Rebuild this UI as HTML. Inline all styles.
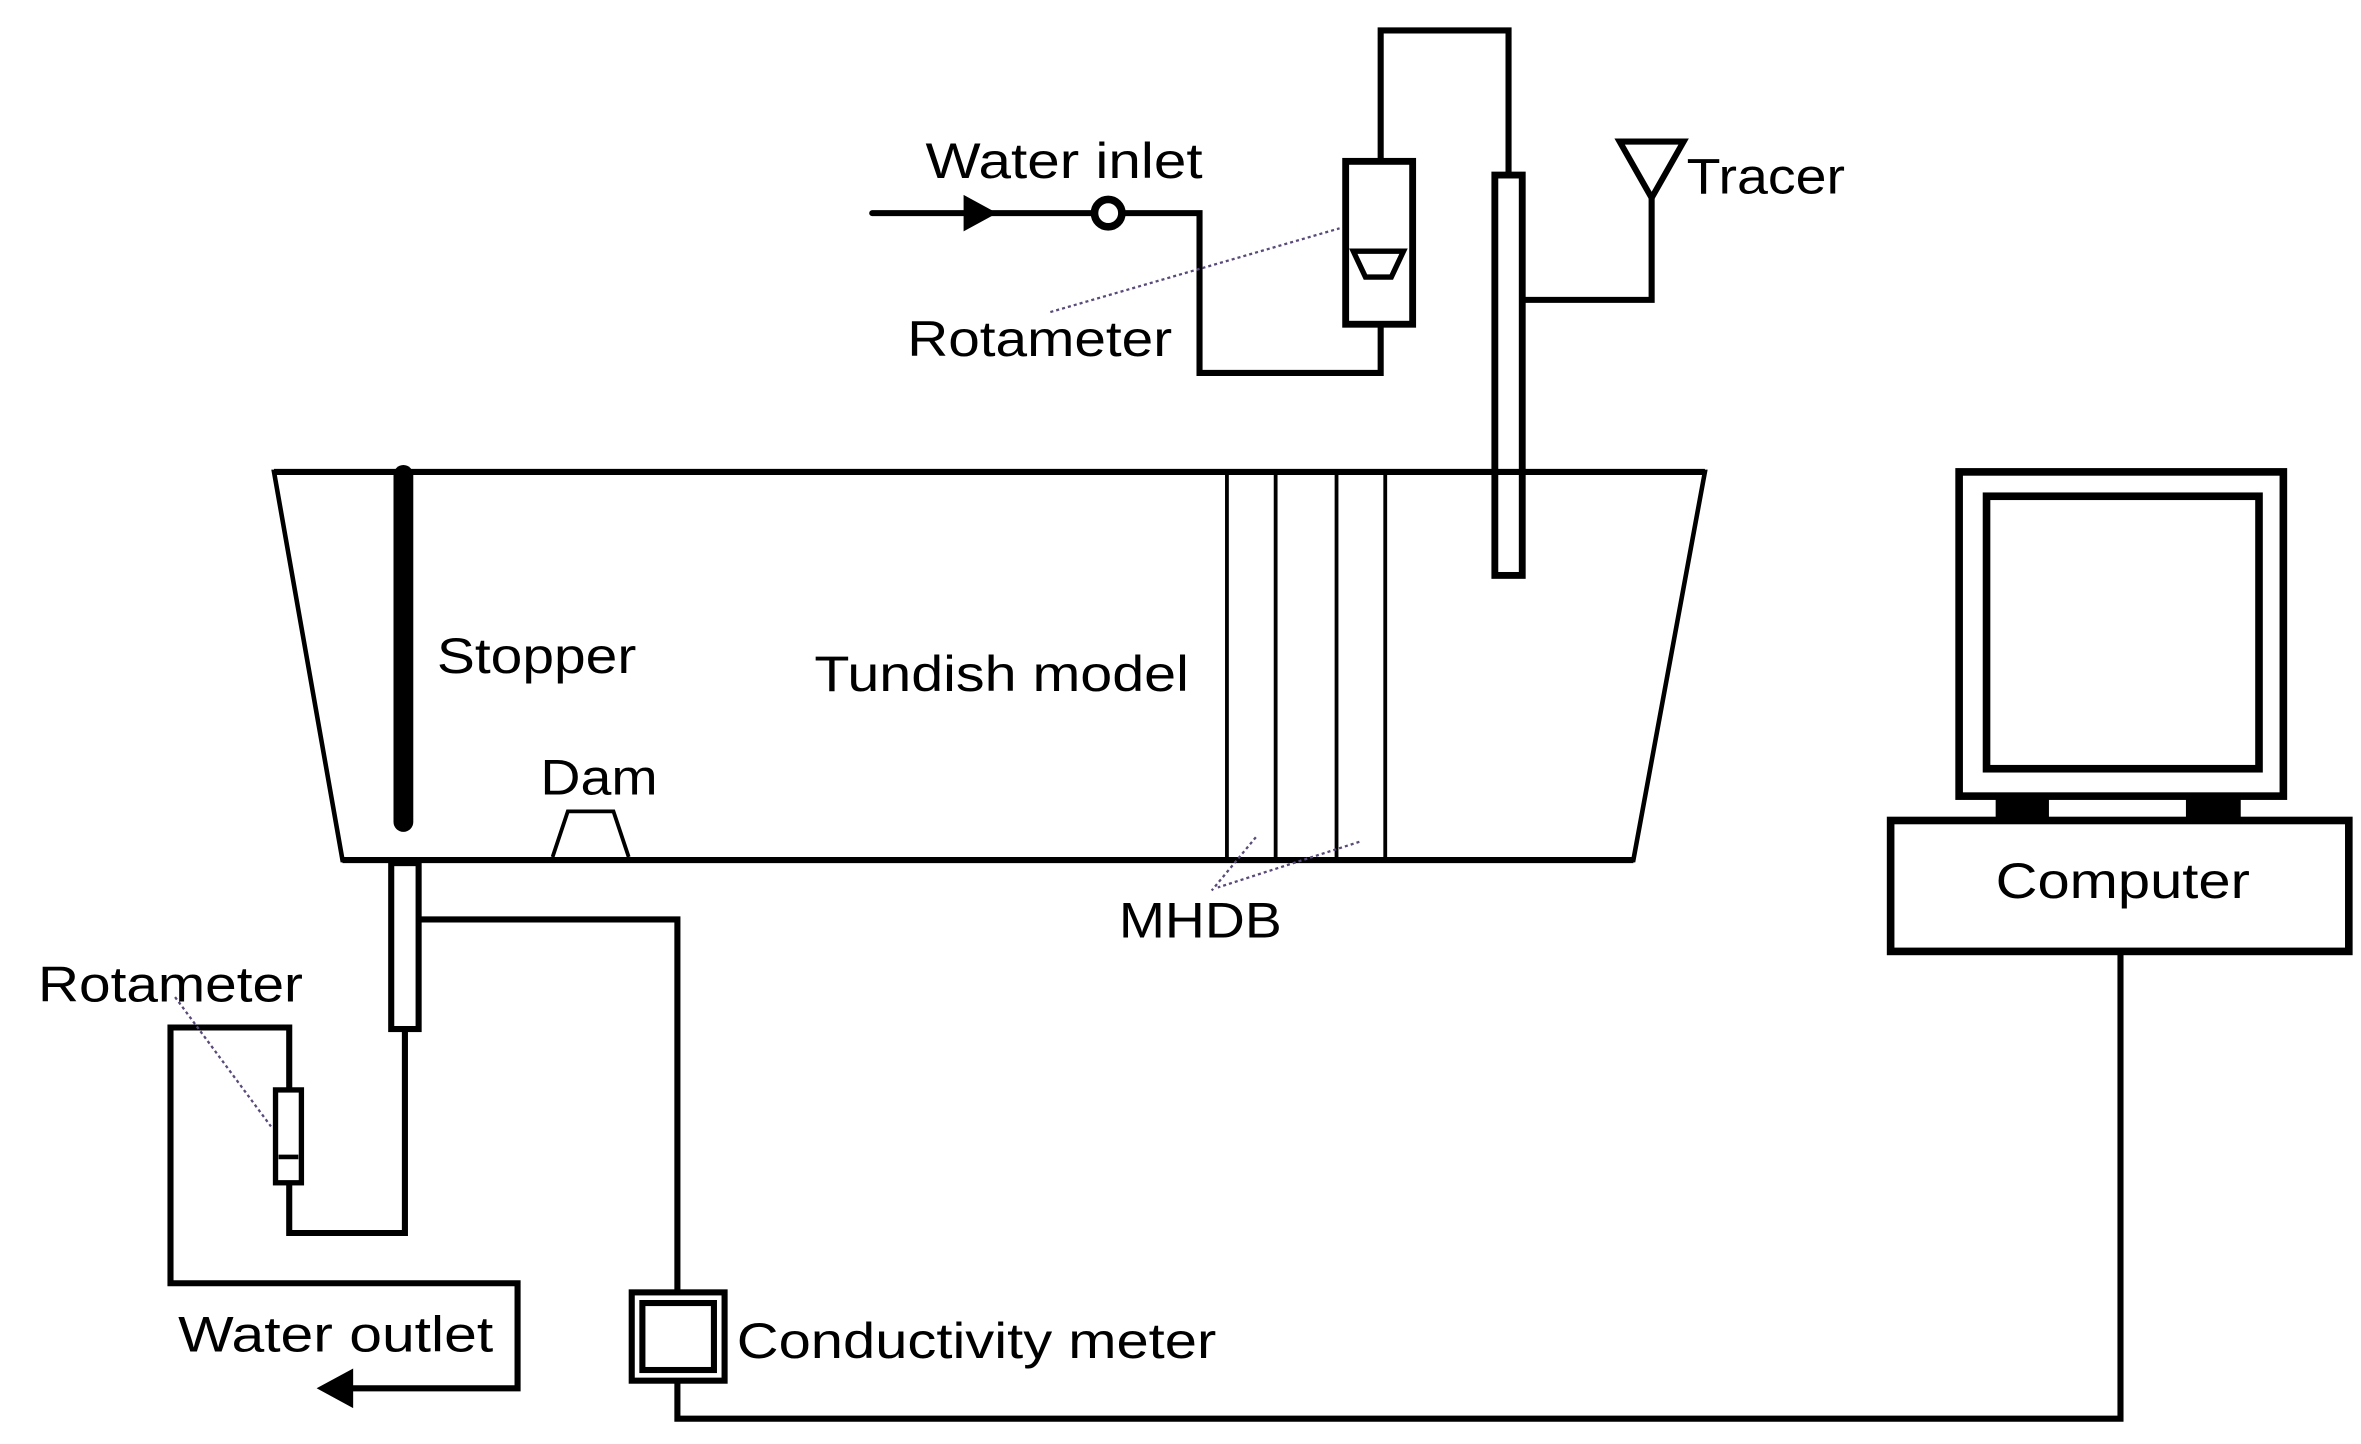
<!DOCTYPE html>
<html><head><meta charset="utf-8"><style>html,body{margin:0;padding:0;background:#fff}svg{display:block}text{font-family:"Liberation Sans",sans-serif;fill:#000}</style></head><body>
<svg width="2361" height="1444" viewBox="0 0 1551 948.6" preserveAspectRatio="none" xmlns="http://www.w3.org/2000/svg">
<g fill="none" stroke="#000" stroke-width="4" stroke-linejoin="miter">
<!-- tundish -->
<path d="M180 310 L1120 310 L1073 565 L225 565 Z" stroke-width="3"/>
<line x1="180" y1="310" x2="1120" y2="310" stroke-width="4"/>
<line x1="225" y1="565" x2="1073" y2="565" stroke-width="4"/>
<!-- stopper -->
<line x1="265" y1="312" x2="265" y2="540" stroke-width="13" stroke-linecap="round"/>
<!-- dam -->
<path d="M363 563 L373 533 L403 533 L413 563" stroke-width="2.5"/>
<!-- MHDB -->
<g stroke-width="2.5"><line x1="806" y1="312" x2="806" y2="563"/><line x1="838" y1="312" x2="838" y2="563"/><line x1="878" y1="312" x2="878" y2="563"/><line x1="910" y1="312" x2="910" y2="563"/></g>
<!-- injection tube -->
<rect x="982" y="115" width="18" height="263" stroke-width="4.5"/>
<!-- top pipes -->
<path d="M991 115 L991 20 L907 20 L907 105"/>
<rect x="884" y="106" width="44" height="107" stroke-width="4.5"/>
<path d="M889 165 L922 165 L914 182 L897 182 Z" stroke-width="3.5"/>
<path d="M907 213 L907 245 L788 245 L788 140 L737 140"/>
<circle cx="728" cy="140" r="9" stroke-width="5"/>
<line x1="719" y1="140" x2="573" y2="140" stroke-width="4" stroke-linecap="round"/>
<!-- tracer -->
<path d="M1064 93 L1106 93 L1085 130 Z" stroke-width="4"/>
<path d="M1085 130 L1085 197 L1000 197"/>
<!-- outlet -->
<rect x="257" y="567" width="18" height="109" stroke-width="4"/>
<path d="M275 604 L445 604 L445 850"/>
<rect x="415" y="849" width="61" height="58" stroke-width="4"/>
<rect x="422" y="856" width="47" height="44" stroke-width="4"/>
<path d="M445 907 L445 932 L1393 932 L1393 625"/>
<path d="M266 676 L266 810 L190 810 L190 777"/>
<rect x="181" y="716" width="17" height="61" stroke-width="3.5"/>
<line x1="183" y1="760" x2="196" y2="760" stroke-width="3"/>
<path d="M190 716 L190 675 L112 675 L112 843 L340 843 L340 912 L228 912"/>
<!-- computer -->
<rect x="1287" y="310" width="213" height="213" stroke-width="5"/>
<rect x="1305" y="326" width="179" height="179" stroke-width="5"/>
<rect x="1242" y="539" width="301" height="86" stroke-width="5"/>
</g>
<!-- fills -->
<polygon points="633,128 655,140 633,152" fill="#000"/>
<polygon points="208,912 232,899 232,925" fill="#000"/>
<rect x="1311" y="522" width="35" height="16" fill="#000"/>
<rect x="1436" y="522" width="36" height="16" fill="#000"/>
<!-- dotted leaders -->
<g stroke="#5a4a7a" stroke-width="1.5" stroke-dasharray="2,2" fill="none">
<line x1="690" y1="205" x2="880" y2="150"/>
<line x1="115" y1="655" x2="178" y2="740"/>
<line x1="825" y1="550" x2="796" y2="585"/>
<line x1="893" y1="553" x2="800" y2="583"/>
</g>
<!-- labels -->
<g font-size="33">
<text x="608" y="117" textLength="182" lengthAdjust="spacingAndGlyphs">Water inlet</text>
<text x="1108" y="127" textLength="104" lengthAdjust="spacingAndGlyphs">Tracer</text>
<text x="596" y="234" textLength="174" lengthAdjust="spacingAndGlyphs">Rotameter</text>
<text x="287" y="442" textLength="131" lengthAdjust="spacingAndGlyphs">Stopper</text>
<text x="535" y="454" textLength="246" lengthAdjust="spacingAndGlyphs">Tundish model</text>
<text x="355" y="522" textLength="77" lengthAdjust="spacingAndGlyphs">Dam</text>
<text x="735" y="616" textLength="107" lengthAdjust="spacingAndGlyphs">MHDB</text>
<text x="25" y="658" textLength="174" lengthAdjust="spacingAndGlyphs">Rotameter</text>
<text x="117" y="888" textLength="207" lengthAdjust="spacingAndGlyphs">Water outlet</text>
<text x="484" y="892" textLength="315" lengthAdjust="spacingAndGlyphs">Conductivity meter</text>
<text x="1311" y="590" textLength="167" lengthAdjust="spacingAndGlyphs">Computer</text>
</g>
</svg>
</body></html>
